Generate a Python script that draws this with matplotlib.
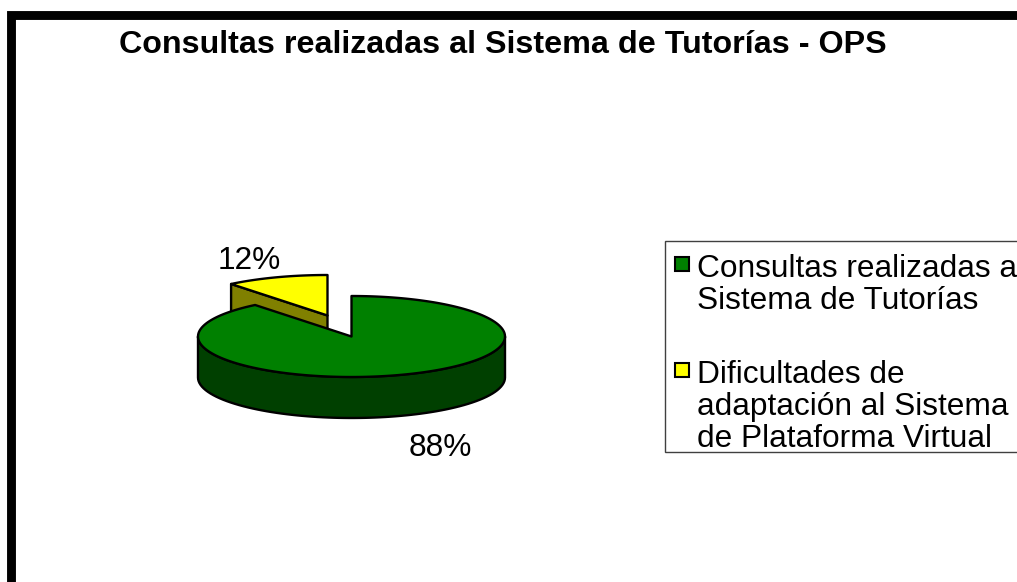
#!/usr/bin/env python3
"""Consultas al Sistema de Tutorías: torta 3D dibujada a mano con polígonos."""

import numpy as np
import matplotlib
matplotlib.use("Agg")
import matplotlib.pyplot as plt
from matplotlib.patches import Polygon, Rectangle

# datos
TITLE = "Consultas realizadas al Sistema de Tutorías - OPS"
values = [88, 12]
pct_labels = ["88%", "12%"]
legend_lines = [
    ["Consultas realizadas al", "Sistema de Tutorías"],
    ["Dificultades de", "adaptación al Sistema", "de Plataforma Virtual"],
]
top_colors = ["#008000", "#FFFF00"]
side_colors = ["#004000", "#808000"]

# geometría en pixeles
W, H = 1017, 582
CX, CY, RX, RY = 351.5, 336.5, 153.5, 40.5
DEPTH = 41
EXPLODE = (-24, -21)
FONT = "Liberation Sans"


def persp(t):
    # la perspectiva comprime los ángulos en el fondo de la torta
    return t - 0.075 * np.sin(2 * t)


def rim(t, dx=0.0, dy=0.0):
    t = persp(np.asarray(t))
    return np.column_stack([CX + dx + RX * np.sin(t), CY + dy - RY * np.cos(t)])


fig = plt.figure(figsize=(W / 100, H / 100), dpi=100)
ax = fig.add_axes([0, 0, 1, 1])
ax.set_xlim(0, W)
ax.set_ylim(H, 0)
ax.axis("off")

# marco grueso: solo arriba e izquierda quedan dentro de la imagen
ax.add_patch(Rectangle((10.5, 15), W + 40, H + 40, fc="white", ec="black", lw=6.4))

fractions = np.array(values) / sum(values)
small = 2 * np.pi * fractions[1]
edge = dict(edgecolor="black", linewidth=1.7, joinstyle="round")

# porción amarilla separada: primero la pared, luego la tapa
ex, ey = EXPLODE
apex_y = np.array([CX + ex, CY + ey])
tip = rim([-small], ex, ey)[0]
ax.add_patch(Polygon([apex_y, tip, tip + [0, DEPTH], apex_y + [0, DEPTH]],
                     facecolor=side_colors[1], **edge))
arc = rim(np.linspace(-small, 0, 40), ex, ey)
ax.add_patch(Polygon(np.vstack([[apex_y], arc]), facecolor=top_colors[1], **edge))

# porción verde: pared frontal y tapa
front = rim(np.linspace(np.pi / 2, 3 * np.pi / 2, 80))
wall = np.vstack([front, front[::-1] + [0, DEPTH]])
ax.add_patch(Polygon(wall, facecolor=side_colors[0], **edge))
arc = rim(np.linspace(0, 2 * np.pi - small, 200))
ax.add_patch(Polygon(np.vstack([[[CX, CY]], arc]), facecolor=top_colors[0], **edge))

# etiquetas de porcentaje
ax.text(440.5, 456, pct_labels[0], fontsize=22.8, family=FONT, ha="center", va="baseline")
ax.text(249.5, 269, pct_labels[1], fontsize=22.8, family=FONT, ha="center", va="baseline")

# título
ax.text(503, 53, TITLE, fontsize=23.2, family=FONT, fontweight="bold",
        ha="center", va="baseline")

# leyenda
ax.add_patch(Rectangle((664.5, 241), W, 211, fc="white", ec="#404040", lw=1))
marker_y = [257, 363]
text_y = [[277, 309], [383, 415, 447]]
for color, lines, my, ys in zip(top_colors, legend_lines, marker_y, text_y):
    ax.add_patch(Rectangle((674.5, my), 14, 14, fc=color, ec="black", lw=1.5))
    for line, y in zip(lines, ys):
        ax.text(697, y, line, fontsize=22.8, family=FONT, ha="left", va="baseline")

fig.savefig("out.png", dpi=100)
